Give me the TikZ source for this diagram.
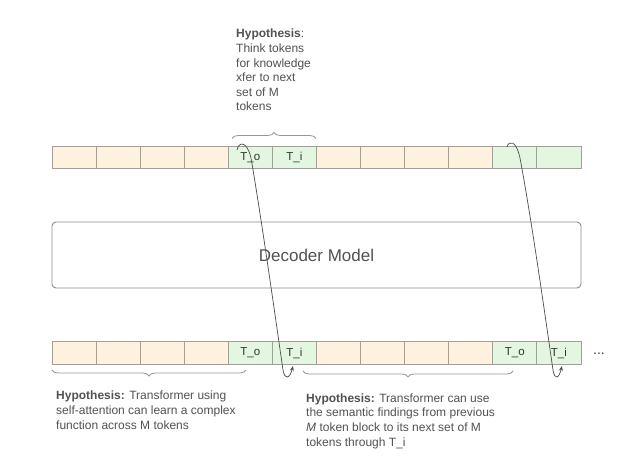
\documentclass[tikz,border=0pt]{standalone}
\usepackage{fontspec}
\setmainfont{Liberation Sans}
\usetikzlibrary{decorations.pathreplacing,arrows.meta}
\definecolor{ofill}{HTML}{FEF2DE}
\definecolor{gfill}{HTML}{E3F6E0}
\definecolor{cellline}{HTML}{A39E97}
\definecolor{txt}{HTML}{525252}
\definecolor{boxline}{HTML}{8C8C8C}
\begin{document}
\begin{tikzpicture}[x=1pt,y=1pt,
  cellbase/.style={draw=cellline, line width=0.9pt, minimum width=44.08pt, minimum height=22.5pt, inner sep=0pt, text=black!80, font=\fontsize{11.5}{13}\selectfont},
  ocell/.style={cellbase, fill=ofill},
  gcell/.style={cellbase, fill=gfill},
  hyp/.style={anchor=north west, align=left, inner sep=0pt, text=txt, font=\fontsize{12}{14.6}\selectfont},
  bracestyle/.style={draw=boxline!90, line width=0.8pt, decorate, decoration={brace, amplitude=6pt}},
  flow/.style={draw=black!70, line width=0.7pt, -{Stealth[length=5pt,width=4pt]}}
]
\useasboundingbox (0,0) rectangle (640,472);
\fill[white] (0,0) rectangle (640,472);

% top row
\foreach \i/\s/\t in {1/ocell/,2/ocell/,3/ocell/,4/ocell/,5/gcell/T\_o,6/gcell/T\_i,7/ocell/,8/ocell/,9/ocell/,10/ocell/,11/gcell/,12/gcell/}
  \node[\s] (t\i) at ({52+44.08*(\i-0.5)},314.5) {\t};
% bottom row
\foreach \i/\s/\t in {1/ocell/,2/ocell/,3/ocell/,4/ocell/,5/gcell/T\_o,6/gcell/T\_i,7/ocell/,8/ocell/,9/ocell/,10/ocell/,11/gcell/T\_o,12/gcell/T\_i}
  \node[\s] (b\i) at ({52+44.08*(\i-0.5)},119) {\t};

\node[anchor=west, inner sep=0pt, text=black!75, font=\fontsize{14}{16}\selectfont] (dots) at (593,118) {...};

% decoder
\node[draw=boxline, line width=0.9pt, rounded corners=4pt, fill=white, minimum width=529pt, minimum height=66pt, text=txt, font=\fontsize{17}{20}\selectfont] (dec) at (316.5,217) {Decoder Model};

% braces
\draw[bracestyle] (232,333.5) -- (316,333.5);
\draw[bracestyle] (246,102) -- (52,102);
\draw[bracestyle] (513,101) -- (303,101);

% texts
\node[hyp] (h1) at (236,443) {\textbf{Hypothesis}:\\Think tokens\\for knowledge\\xfer to next\\set of M\\tokens};
\node[hyp] (h2) at (56,81) {\textbf{Hypothesis:} Transformer using\\self-attention can learn a complex\\function across M tokens};
\node[hyp] (h3) at (306,78.5) {\textbf{Hypothesis:} Transformer can use\\the semantic findings from previous\\\textit{M} token block to its next set of M\\tokens through T\_i};

% curves
\coordinate (s1) at (237,322);
\coordinate (e1) at (293,106);
\coordinate (s2) at (507,325);
\coordinate (e2) at (562,106);
\draw[flow] (s1) .. controls (239,331) and (247,331) .. (251,314)
  .. controls (262,250) and (276,150) .. (283,102)
  .. controls (285,91) and (290,94) .. (e1);
\draw[flow] (s2) .. controls (509,332) and (516,332) .. (520,314)
  .. controls (532,250) and (546,150) .. (553,102)
  .. controls (555,91) and (559,94) .. (e2);
\end{tikzpicture}
\end{document}
